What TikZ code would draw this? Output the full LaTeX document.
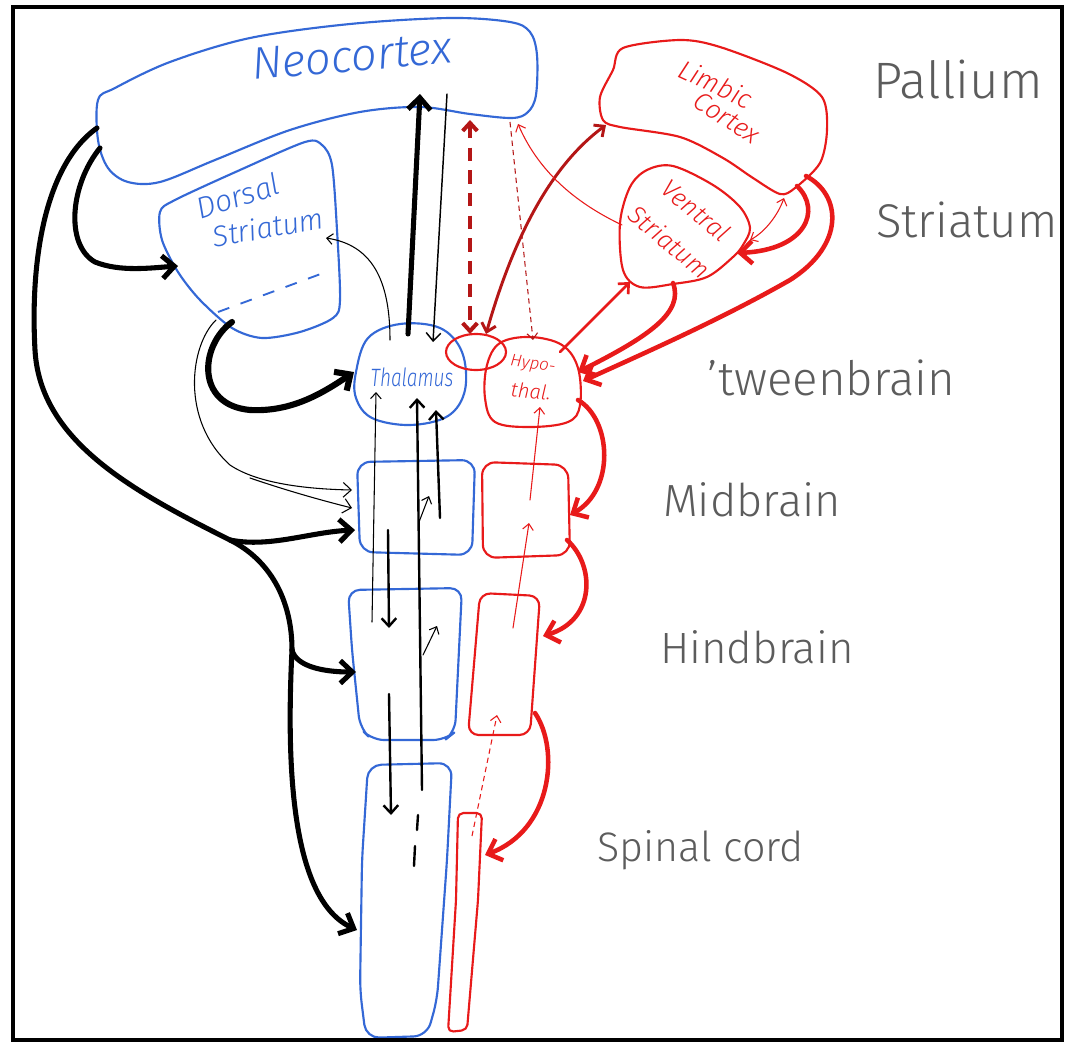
\documentclass[tikz,border=0pt]{standalone}
\usepackage{fontspec}
\setmainfont{Fira Sans}
\newfontfamily\hand{Fira Sans Light}
\usetikzlibrary{arrows.meta}
\definecolor{ublue}{RGB}{52,104,214}
\definecolor{ured}{RGB}{232,26,26}
\definecolor{udred}{RGB}{180,22,22}
\definecolor{ugray}{RGB}{92,92,92}
\begin{document}
\begin{tikzpicture}[x=0.75pt,y=-0.75pt,
  blueshape/.style={draw=ublue,line width=1.6pt,line join=round},
  redshape/.style={draw=ured,line width=1.6pt,line join=round},
  bl/.style={text=ublue,inner sep=0pt,font=\hand\itshape},
  rl/.style={text=ured,inner sep=0pt,font=\hand\itshape},
  gl/.style={text=ugray,inner sep=0pt,anchor=west,font=\hand},
  heavy/.style={draw=black,line cap=round,line width=3.8pt},
  medium/.style={draw=black,line cap=round,line width=1.8pt},
  fine/.style={draw=black,line cap=round,line width=0.8pt},
  rthick/.style={draw=ured,line cap=round,line width=3.4pt},
  rmed/.style={draw=ured,line cap=round,line width=2pt},
  rdeep/.style={draw=udred,line cap=round,line width=2.2pt},
  rfine/.style={draw=ured,line cap=round,line width=0.8pt},
  tipH/.style={-{Straight Barb[length=9pt,width=17pt]}},
  tipM/.style={-{Straight Barb[length=6pt,width=11pt]}},
  tipS/.style={-{Straight Barb[length=4.5pt,width=8pt]}},
  tipSS/.style={{Straight Barb[length=4.5pt,width=8pt]}-{Straight Barb[length=4.5pt,width=8pt]}},
  tipMM/.style={{Straight Barb[length=6pt,width=11pt]}-{Straight Barb[length=6pt,width=11pt]}}
]
\useasboundingbox (0,0) rectangle (1067,1045);
\fill[white] (0,0) rectangle (1067,1045);

% ---------- shapes ----------
\draw[blueshape] plot[smooth cycle,tension=0.55] coordinates {(98,100) (115,88) (170,62) (250,38) (350,24) (450,18) (510,22) (530,32) (537,55) (536,95) (528,112) (512,118) (470,114) (420,107) (360,112) (290,130) (215,160) (160,182) (128,182) (108,168) (98,140)};
\draw[blueshape] plot[smooth cycle,tension=0.5] coordinates {(160,212) (175,200) (240,170) (305,142) (322,145) (332,165) (337,230) (340,300) (333,318) (300,332) (262,338) (232,328) (200,300) (178,272) (162,240)};
\draw[ublue,line width=1.4pt,dash pattern=on 9pt off 9pt] (218,312) -- (326,272);
\draw[blueshape] plot[smooth cycle,tension=0.6] coordinates {(356,372) (368,338) (400,324) (440,328) (462,352) (465,390) (448,416) (410,425) (372,418) (356,398)};
\draw[blueshape,rounded corners=10pt] (357,462) -- (475,460) -- (472,555) -- (360,552) -- cycle;
\draw[blueshape,rounded corners=9pt] (348,590) -- (462,588) -- (455,732) -- (445,740) -- (372,740) -- (360,728) -- (352,650) -- cycle;
\draw[blueshape,rounded corners=10pt] (368,765) -- (452,763) -- (447,860) -- (437,1000) -- (427,1036) -- (366,1038) -- (360,990) -- (362,860) -- cycle;

\draw[redshape] plot[smooth cycle,tension=0.5] coordinates {(623,48) (680,40) (720,47) (787,73) (822,97) (827,130) (820,163) (795,188) (780,194) (753,178) (723,158) (680,137) (620,127) (603,120) (600,97) (613,70)};
\draw[redshape] plot[smooth cycle,tension=0.55] coordinates {(630,187) (647,170) (673,166) (713,185) (740,207) (750,228) (743,245) (733,257) (707,277) (673,284) (640,287) (623,270) (620,223)};
\draw[redshape] (476,352) ellipse [x radius=30,y radius=18];
\draw[redshape] plot[smooth cycle,tension=0.6] coordinates {(487,365) (500,343) (530,337) (562,345) (578,368) (580,405) (568,422) (530,427) (495,422) (485,398)};
\draw[redshape,rounded corners=10pt] (482,462) -- (568,465) -- (570,555) -- (483,558) -- cycle;
\draw[redshape,rounded corners=8pt] (480,593) -- (540,596) -- (530,735) -- (468,735) -- cycle;
\draw[redshape,rounded corners=4pt] (458,813) -- (482,813) -- (478,900) -- (467,1030) -- (448,1032) -- (456,900) -- cycle;

% ---------- labels ----------
\node[bl,rotate=5] (tNeo) at (352,56) {\resizebox{150pt}{!}{Neocortex}};
\node[bl,rotate=18] (tDor) at (238,196) {\resizebox{64pt}{!}{Dorsal}};
\node[bl,rotate=10] (tStrD) at (268,227) {\resizebox{84pt}{!}{Striatum}};
\node[bl] (tTha) at (412,377) {\resizebox{62pt}{14pt}{Thalamus}};
\node[rl,rotate=-8] (tHy1) at (533,365) {\resizebox{34pt}{!}{Hypo-}};
\node[rl,rotate=-5] (tHy2) at (531,391) {\resizebox{30pt}{!}{thal.}};
\node[rl,rotate=-25] (tLim) at (716,84) {\resizebox{58pt}{!}{Limbic}};
\node[rl,rotate=-33] (tCor) at (727,118) {\resizebox{54pt}{!}{Cortex}};
\node[rl,rotate=-40,align=center,font=\hand\itshape\fontsize{19}{31}\selectfont] (tVS) at (683,226) {Ventral\\Striatum};

\node[gl] (gPal) at (873,80) {\resizebox{127pt}{!}{Pallium}};
\node[gl] (gStr) at (876,220) {\resizebox{136pt}{!}{Striatum}};
\node[gl] (gTw) at (707,378) {\resizebox{186pt}{!}{’tweenbrain}};
\node[gl] (gMid) at (663,500) {\resizebox{133pt}{!}{Midbrain}};
\node[gl] (gHind) at (660,647) {\resizebox{145pt}{!}{Hindbrain}};
\node[gl] (gSpin) at (597,850) {\resizebox{155pt}{!}{Spinal cord}};

% ---------- coordinates ----------
\coordinate (ncL1) at (97,128);
\coordinate (ncL2) at (100,148);
\coordinate (ncB1) at (420,94);
\coordinate (ncB2) at (447,94);
\coordinate (ncB3) at (470,120);
\coordinate (ncB4) at (510,122);
\coordinate (ncR) at (518,124);
\coordinate (dsIn) at (178,266);
\coordinate (dsB1) at (232,322);
\coordinate (dsB2) at (216,320);
\coordinate (dsR) at (326,238);
\coordinate (thIn) at (354,372);
\coordinate (thT1) at (390,340);
\coordinate (thT2) at (408,334);
\coordinate (thT3) at (433,342);
\coordinate (thB1) at (376,392);
\coordinate (thB2) at (417,398);
\coordinate (thB3) at (436,410);
\coordinate (mdIn1) at (352,490);
\coordinate (mdIn2) at (352,508);
\coordinate (mdIn3) at (355,530);
\coordinate (mdA) at (440,518);
\coordinate (mdB) at (388,530);
\coordinate (mdS) at (419,522);
\coordinate (mdT) at (429,496);
\coordinate (hbIn) at (356,672);
\coordinate (hbA) at (372,622);
\coordinate (hbC) at (389,628);
\coordinate (hbD) at (389,694);
\coordinate (hbS) at (423,655);
\coordinate (hbT) at (437,626);
\coordinate (spIn) at (357,930);
\coordinate (spA) at (422,790);
\coordinate (spC) at (391,815);

\coordinate (elT1) at (470,334);
\coordinate (elT2) at (486,334);
\coordinate (lcL) at (606,125);
\coordinate (lcBR1) at (806,176);
\coordinate (lcBR2) at (797,186);
\coordinate (lcB) at (784,198);
\coordinate (vsL) at (622,225);
\coordinate (vsBL) at (630,282);
\coordinate (vsB) at (673,283);
\coordinate (vsR) at (737,253);
\coordinate (vsR2) at (750,240);
\coordinate (hyT) at (533,340);
\coordinate (hyTR) at (560,352);
\coordinate (hyR1) at (578,372);
\coordinate (hyR2) at (583,381);
\coordinate (hyBR) at (578,400);
\coordinate (hyB) at (540,407);
\coordinate (mrR) at (570,515);
\coordinate (mrBR) at (567,540);
\coordinate (mrA) at (529,523);
\coordinate (mrB) at (530,500);
\coordinate (hrR) at (543,636);
\coordinate (hrBR) at (535,713);
\coordinate (hrA) at (513,628);
\coordinate (hrB) at (497,715);
\coordinate (srR) at (485,855);
\coordinate (srT) at (472,836);

% ---------- black connectors ----------
\draw[heavy] (ncL1) .. controls (45,165) and (30,260) .. (35,350) .. controls (40,440) and (130,490) .. (230,540) coordinate (br1);
\draw[heavy,tipH] (br1) .. controls (270,548) and (310,532) .. (mdIn3);
\draw[heavy] (br1) .. controls (270,560) and (292,600) .. (292,650) coordinate (br2);
\draw[heavy,tipH] (br2) .. controls (296,666) and (322,672) .. (hbIn);
\draw[heavy,tipH] (br2) .. controls (286,770) and (292,900) .. (spIn);
\draw[heavy,tipH] (ncL2) .. controls (70,185) and (65,245) .. (95,262) .. controls (120,272) and (150,268) .. (dsIn);
\draw[heavy,line width=4.6pt,tipH] (dsB1) .. controls (200,345) and (195,405) .. (250,410) .. controls (290,412) and (320,395) .. (thIn);
\draw[fine,tipM] (dsB2) .. controls (190,345) and (180,420) .. (230,465) .. controls (255,482) and (300,489) .. (mdIn1);
\coordinate (dbr) at (250,478);
\draw[fine,tipM] (dbr) .. controls (285,490) and (320,500) .. (mdIn2);
\draw[fine,tipS] (thT1) .. controls (390,280) and (372,245) .. (dsR);
\draw[heavy,tipH] (thT2) -- (ncB1);
\draw[fine,line width=1.1pt,tipM] (ncB2) -- (thT3);
\draw[fine,tipS] (hbA) -- (thB1);
\draw[medium,tipM] (spA) -- (thB2);
\draw[medium,tipM] (mdA) -- (thB3);
\draw[medium] (418,815) -- (417,830);
\draw[medium] (415,846) -- (414,866);
\draw[fine,tipS] (mdS) -- (mdT);
\draw[fine,tipS] (hbS) -- (hbT);
\draw[medium,tipM] (mdB) -- (hbC);
\draw[medium,tipM] (hbD) -- (spC);

% ---------- red connectors ----------
\draw[draw=udred,line width=3pt,dash pattern=on 10pt off 7pt,{Straight Barb[length=6pt,width=11pt]}-{Straight Barb[length=6pt,width=11pt]}] (ncB3) -- (elT1);
\draw[rdeep,tipMM] (elT2) .. controls (510,250) and (545,170) .. (lcL);
\draw[rfine,tipS] (vsL) .. controls (580,205) and (540,175) .. (ncR);
\draw[draw=udred,line width=0.8pt,dash pattern=on 4pt off 3pt,tipS] (ncB4) -- (hyT);
\draw[rmed,tipM] (hyTR) -- (vsBL);
\draw[rthick,tipH] (vsB) .. controls (684,312) and (650,336) .. (hyR1);
\draw[rthick,tipH] (lcBR1) .. controls (842,195) and (845,245) .. (790,280) .. controls (720,320) and (640,355) .. (hyR2);
\draw[rthick,tipH] (lcBR2) .. controls (822,210) and (806,250) .. (vsR);
\draw[rfine,tipSS] (vsR2) .. controls (765,232) and (778,215) .. (lcB);
\draw[rthick,tipH] (hyBR) .. controls (612,420) and (615,490) .. (mrR);
\draw[rthick,tipH] (mrBR) .. controls (595,565) and (596,620) .. (hrR);
\draw[rthick,tipH] (hrBR) .. controls (560,750) and (552,830) .. (srR);
\draw[rfine,tipS] (hrA) -- (mrA);
\draw[rfine,tipS] (mrB) -- (hyB);
\draw[draw=ured,line width=0.8pt,dash pattern=on 4pt off 3pt,tipS] (srT) -- (hrB);

% ---------- frame ----------
\draw[line width=3.6pt] (13,7) rectangle (1062,1040);
\end{tikzpicture}
\end{document}
